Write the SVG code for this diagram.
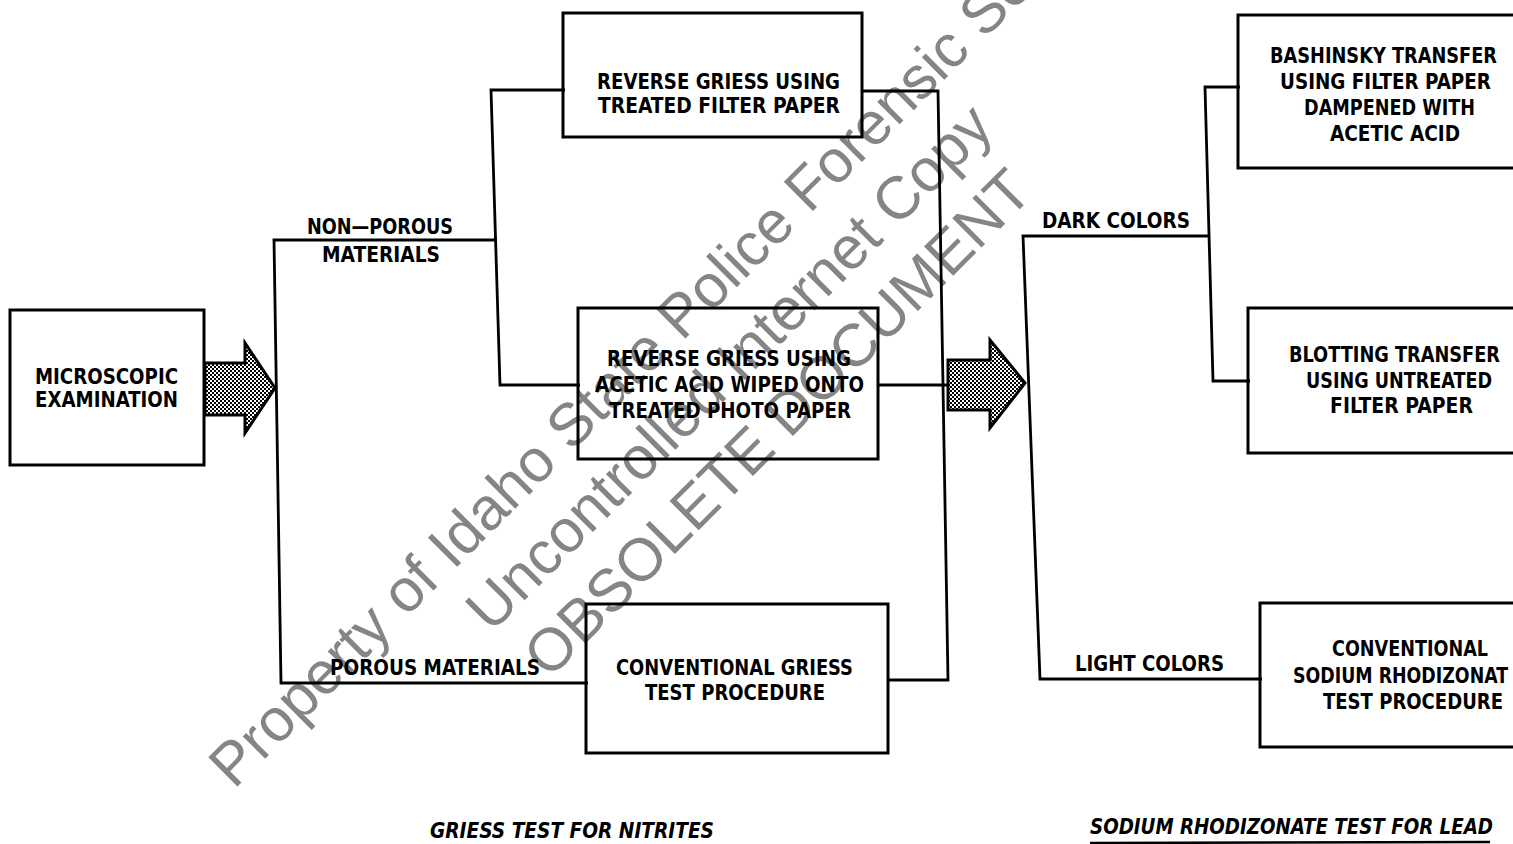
<svg xmlns="http://www.w3.org/2000/svg" width="1513" height="844" viewBox="0 0 1513 844">
<style>
.box{fill:none;stroke:#000;stroke-width:3;stroke-linejoin:miter}
.ln{fill:none;stroke:#000;stroke-width:2.8;stroke-linejoin:miter}
.t{font-family:"DejaVu Sans Condensed","DejaVu Sans",sans-serif;font-weight:bold;font-size:22px;fill:#000}
.cap{font-style:italic}
.wm{font-family:"Liberation Sans",Arial,sans-serif;font-size:60px;fill:#858585}
.arr{fill:url(#dots);stroke:#000;stroke-width:3;stroke-linejoin:miter}
</style>
<defs>
<pattern id="dots" width="4" height="4" patternUnits="userSpaceOnUse">
<rect width="4" height="4" fill="#fff"/>
<rect width="2" height="2" fill="#000"/>
<rect x="2" y="2" width="2" height="2" fill="#000"/>
</pattern>
</defs>
<rect width="1513" height="844" fill="#fff"/>
<g id="watermark">
<text class="wm" transform="translate(234,790) rotate(-45)">Property of Idaho State Police Forensic Se</text>
<text class="wm" transform="translate(491,634) rotate(-45)">Uncontrolled Internet Copy</text>
<text class="wm" transform="translate(549,680) rotate(-45)">OBSOLETE DOCUMENT</text>
</g>
<g id="connectors">
<polyline class="ln" points="497,240 274,240 281,683 588,683"/>
<polyline class="ln" points="565,90 491,90 500,385 580,385"/>
<polyline class="ln" points="862,91 938,91 948,680 888,680"/>
<line class="ln" x1="878" y1="385" x2="948" y2="385"/>
<polyline class="ln" points="1208,236 1023,236 1040,679 1262,679"/>
<polyline class="ln" points="1240,87 1205,87 1213,381 1250,381"/>
<polygon class="arr" points="205,363 245,363 245,343 275,388 245,433 245,415 205,415"/>
<polygon class="arr" points="948,360 990,360 990,340 1025,383 990,428 990,410 948,410"/>
</g>
<g id="microscopic">
<rect class="box" x="10" y="310" width="194" height="155"/>
<text class="t" x="35" y="384" textLength="143" lengthAdjust="spacingAndGlyphs">MICROSCOPIC</text>
<text class="t" x="35" y="407" textLength="143" lengthAdjust="spacingAndGlyphs">EXAMINATION</text>
</g>
<g id="label-nonporous">
<text class="t" x="307" y="234" textLength="146" lengthAdjust="spacingAndGlyphs">NON—POROUS</text>
<text class="t" x="322" y="262" textLength="118" lengthAdjust="spacingAndGlyphs">MATERIALS</text>
</g>
<g id="label-porous">
<text class="t" x="330" y="675" textLength="210" lengthAdjust="spacingAndGlyphs">POROUS MATERIALS</text>
</g>
<g id="reverse-filter">
<rect class="box" x="563" y="13" width="299" height="124"/>
<text class="t" x="597" y="89" textLength="243" lengthAdjust="spacingAndGlyphs">REVERSE GRIESS USING</text>
<text class="t" x="598" y="113" textLength="242" lengthAdjust="spacingAndGlyphs">TREATED FILTER PAPER</text>
</g>
<g id="reverse-photo">
<rect class="box" x="578" y="308" width="300" height="151"/>
<text class="t" x="607" y="366" textLength="244" lengthAdjust="spacingAndGlyphs">REVERSE GRIESS USING</text>
<text class="t" x="595" y="392" textLength="269" lengthAdjust="spacingAndGlyphs">ACETIC ACID WIPED ONTO</text>
<text class="t" x="609" y="418" textLength="242" lengthAdjust="spacingAndGlyphs">TREATED PHOTO PAPER</text>
</g>
<g id="conventional-griess">
<rect class="box" x="586" y="604" width="302" height="149"/>
<text class="t" x="616" y="675" textLength="237" lengthAdjust="spacingAndGlyphs">CONVENTIONAL GRIESS</text>
<text class="t" x="645" y="700" textLength="180" lengthAdjust="spacingAndGlyphs">TEST PROCEDURE</text>
</g>
<g id="caption-griess">
<text class="t cap" x="430" y="838" textLength="284" lengthAdjust="spacingAndGlyphs">GRIESS TEST FOR NITRITES</text>
</g>
<g id="label-dark">
<text class="t" x="1042" y="228" textLength="148" lengthAdjust="spacingAndGlyphs">DARK COLORS</text>
</g>
<g id="label-light">
<text class="t" x="1075" y="671" textLength="149" lengthAdjust="spacingAndGlyphs">LIGHT COLORS</text>
</g>
<g id="bashinsky">
<path class="box" d="M1515,15 H1238 V168 H1515"/>
<text class="t" x="1270" y="63" textLength="227" lengthAdjust="spacingAndGlyphs">BASHINSKY TRANSFER</text>
<text class="t" x="1280" y="89" textLength="211" lengthAdjust="spacingAndGlyphs">USING FILTER PAPER</text>
<text class="t" x="1304" y="115" textLength="171" lengthAdjust="spacingAndGlyphs">DAMPENED WITH</text>
<text class="t" x="1330" y="141" textLength="130" lengthAdjust="spacingAndGlyphs">ACETIC ACID</text>
</g>
<g id="blotting">
<path class="box" d="M1515,308 H1248 V453 H1515"/>
<text class="t" x="1289" y="362" textLength="211" lengthAdjust="spacingAndGlyphs">BLOTTING TRANSFER</text>
<text class="t" x="1306" y="388" textLength="186" lengthAdjust="spacingAndGlyphs">USING UNTREATED</text>
<text class="t" x="1330" y="413" textLength="143" lengthAdjust="spacingAndGlyphs">FILTER PAPER</text>
</g>
<g id="conventional-rhodizonate">
<path class="box" d="M1515,603 H1260 V747 H1515"/>
<text class="t" x="1332" y="656" textLength="156" lengthAdjust="spacingAndGlyphs">CONVENTIONAL</text>
<text class="t" x="1293" y="683" textLength="215" lengthAdjust="spacingAndGlyphs">SODIUM RHODIZONAT</text>
<text class="t" x="1323" y="709" textLength="180" lengthAdjust="spacingAndGlyphs">TEST PROCEDURE</text>
</g>
<g id="caption-rhodizonate">
<text class="t cap" x="1090" y="834" textLength="403" lengthAdjust="spacingAndGlyphs">SODIUM RHODIZONATE TEST FOR LEAD</text>
<line x1="1090" y1="843" x2="1490" y2="842" stroke="#000" stroke-width="2.5"/>
</g>
</svg>
